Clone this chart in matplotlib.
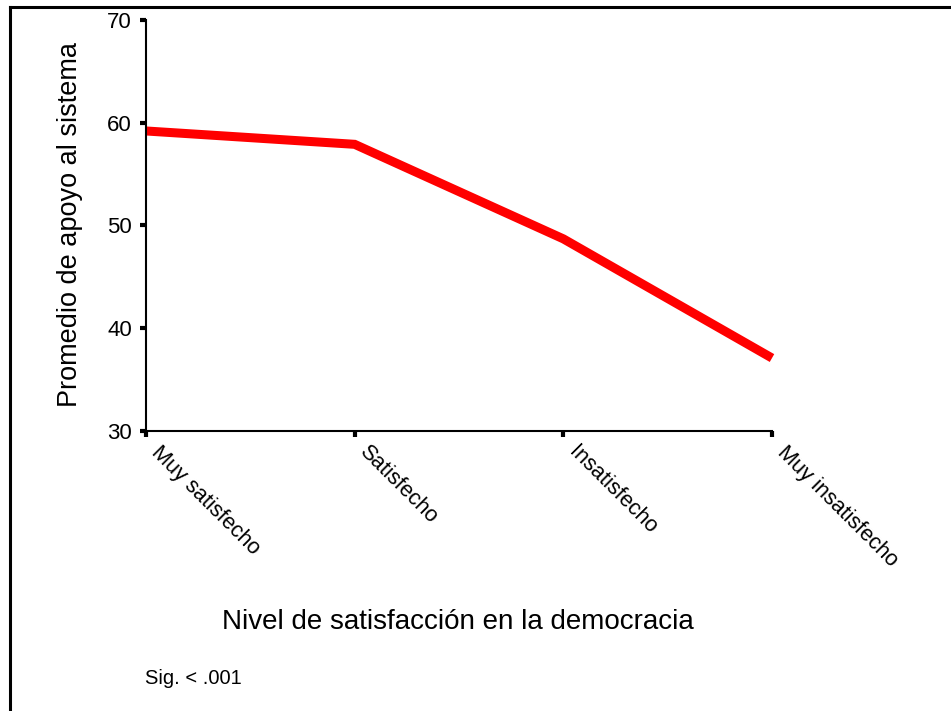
import matplotlib
matplotlib.use("Agg")
import matplotlib.pyplot as plt
import matplotlib.transforms as mtransforms
from matplotlib.lines import Line2D

categories = ["Muy satisfecho", "Satisfecho", "Insatisfecho", "Muy insatisfecho"]
values = [59.2, 57.9, 48.7, 37.1]
yticks = [30, 40, 50, 60, 70]

plt.rcParams['font.family'] = ['Liberation Sans', 'DejaVu Sans']

W, H = 951, 711
fig = plt.figure(figsize=(W/100, H/100), dpi=100)
ax = fig.add_axes([146/W, 1-431/H, (772-146)/W, (431-20)/H])

x = list(range(len(categories)))
ax.plot(x, values, color='#ff0000', lw=6.5, solid_capstyle='butt', solid_joinstyle='miter', clip_on=False)
ax.set_xlim(0, len(categories)-1)
ax.set_ylim(30, 70)
ax.set_yticks(yticks)
ax.set_yticklabels([str(v) for v in yticks], fontsize=16)
ax.set_xticks(x)
ax.set_xticklabels([''] * len(categories))
offset = mtransforms.ScaledTranslation(16/100, -11/100, fig.dpi_scale_trans)
for xi, cat in zip(x, categories):
    ax.text(xi, 0, cat, transform=ax.get_xaxis_transform() + offset,
            rotation=-45, ha='left', va='top', rotation_mode='anchor', fontsize=15.7)
for s in ['top', 'right']:
    ax.spines[s].set_visible(False)
for s in ['left', 'bottom']:
    ax.spines[s].set_linewidth(1.5)
ax.tick_params(axis='both', direction='out', length=4, width=3, pad=6)

fig.text(70/W, 1-224/H, "Promedio de apoyo al sistema", rotation=90, ha='center', va='center', fontsize=19.5)
fig.text(458/W, 1-622/H, "Nivel de satisfacción en la democracia", ha='center', va='center', fontsize=20)
fig.text(145/W, 1-678/H, "Sig. < .001", ha='left', va='center', fontsize=14.5)

fig.add_artist(Line2D([10/W, 1], [1-7/H, 1-7/H], transform=fig.transFigure, color='black', lw=2.2))
fig.add_artist(Line2D([10/W, 10/W], [0, 1-7/H], transform=fig.transFigure, color='black', lw=2.2))

fig.savefig("out.png", dpi=100)
